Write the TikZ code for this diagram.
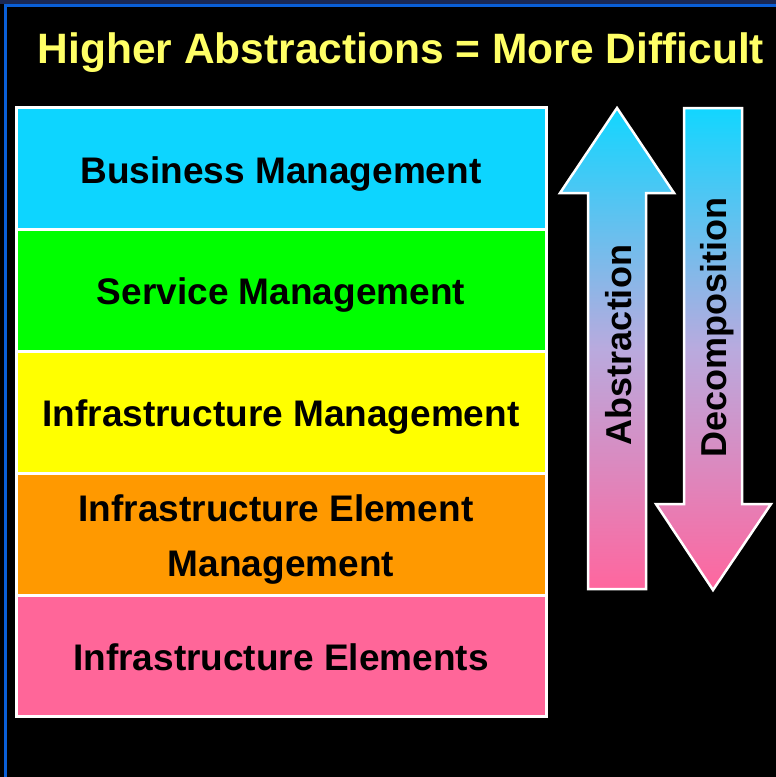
\documentclass[tikz,border=0pt]{standalone}
\usepackage{fontspec}
\setmainfont{Liberation Sans}
\usetikzlibrary{positioning}
\definecolor{bizcyan}{RGB}{13,213,255}
\definecolor{svcgreen}{RGB}{0,255,0}
\definecolor{infyellow}{RGB}{255,255,0}
\definecolor{elmorange}{RGB}{255,153,0}
\definecolor{elpink}{RGB}{255,102,153}
\definecolor{arrcyan}{RGB}{18,214,255}
\definecolor{arrlav}{RGB}{185,170,222}
\definecolor{arrpink}{RGB}{255,102,158}
\definecolor{titleyellow}{RGB}{255,255,102}
\definecolor{frameblue}{RGB}{10,95,215}
\definecolor{topnavy}{RGB}{25,40,85}
\begin{document}
\begin{tikzpicture}[x=1pt, y=-1pt,
    layer/.style={draw=white, line width=3pt, minimum width=530pt, minimum height=121.8pt,
      outer sep=0pt, inner sep=0pt, font=\fontsize{37}{54.3}\selectfont\bfseries,
      text height=30pt, text depth=1.4pt},
    bigarrow/.style={draw=white, line width=2.5pt, top color=arrcyan, bottom color=arrpink,
      middle color=arrlav},
    arrowlabel/.style={rotate=90, font=\fontsize{36}{40}\selectfont\bfseries}]
    % background and frame
    \fill[black] (0,0) rectangle (776,777);
    \useasboundingbox (0,0) rectangle (776,777);
    \fill[topnavy] (0,0) rectangle (776,4);
    \draw[frameblue, line width=3.5pt] (5.5,777) -- (5.5,5.5) -- (776,5.5);
    \node[anchor=base, text=titleyellow, font=\fontsize{42.5}{50}\selectfont\bfseries] (title)
      at (401,63) {Higher Abstractions = More Difficult};
    % layers
    \node[layer, fill=bizcyan] (business) at (281,168.8) {Business Management};
    \node[layer, fill=svcgreen, below=0pt of business] (service) {Service Management};
    \node[layer, fill=infyellow, below=0pt of service] (infra) {Infrastructure Management};
    \node[layer, fill=elmorange, below=0pt of infra, align=center, text height=85.4pt] (element)
      {Infrastructure Element\kern10pt\\Management};
    \node[layer, fill=elpink, below=0pt of element] (elements) {Infrastructure Elements};
    % arrows
    \draw[bigarrow] (617,108) -- (674,193) -- (646,193) -- (646,589) -- (588,589)
      -- (588,193) -- (560,193) -- cycle;
    \node[arrowlabel] (abstraction) at (619,345) {Abstraction};
    \draw[bigarrow] (684,108) -- (742,108) -- (742,504) -- (771,504) -- (713,590)
      -- (656,504) -- (684,504) -- cycle;
    \node[arrowlabel] (decomposition) at (717,327.5) {Decomposition};
\end{tikzpicture}
\end{document}
